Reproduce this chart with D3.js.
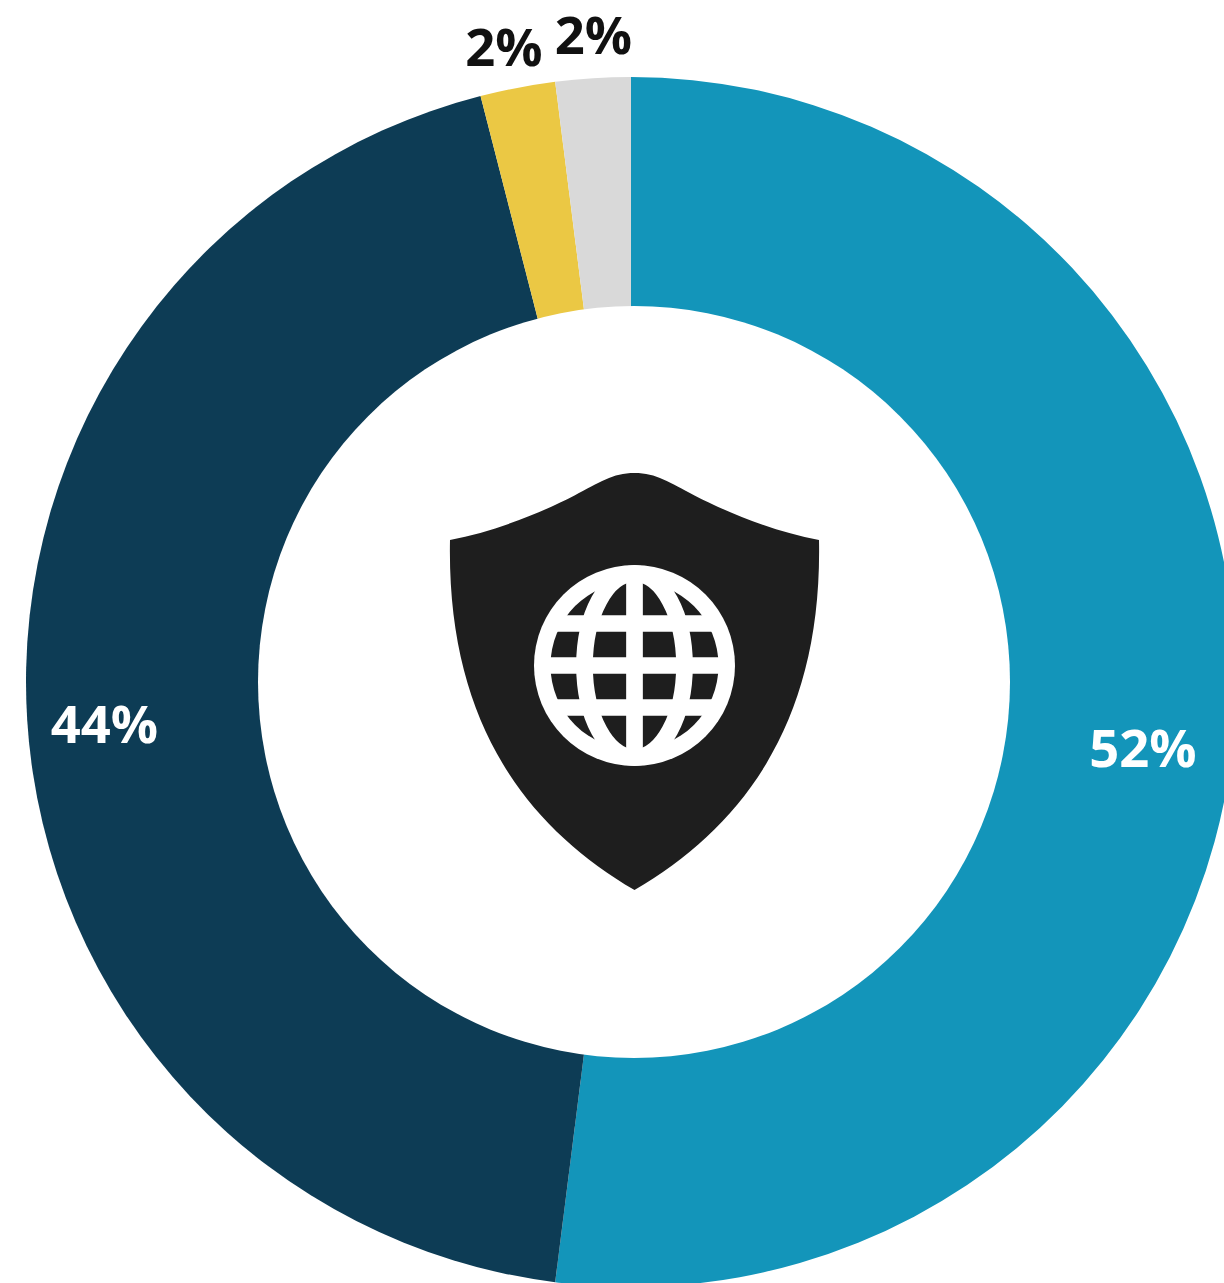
<!DOCTYPE html>
<html>
<head>
<meta charset="utf-8">
<script src="https://cdn.jsdelivr.net/npm/d3@7"></script>
<style>
  html, body { margin: 0; padding: 0; background: #fff; overflow: hidden; }
  svg { display: block; }
</style>
</head>
<body>
<div id="chart"></div>
<script>
// values run clockwise from 12 o'clock
const shares = [52, 44, 2, 2];
const labels = ["52%", "44%", "2%", "2%"];
const colors = ["#1395ba", "#0d3c55", "#ebc844", "#d9d9d9"];
const labelColors = ["#fff", "#fff", "#111", "#111"];

const width = 1224, height = 1283;
const cx = 631, cy = 682, outerR = 605;
// the hole sits 3px right of the ring centre in the original
const holeX = 634, holeY = 682, holeR = 376;
// labels are hand placed, not on the slice centroids
const labelPos = [[1143, 767], [104.5, 743], [504, 66], [593.5, 54]];

const svg = d3.select("#chart").append("svg")
  .attr("width", width)
  .attr("height", height)
  .attr("font-family", "'Open Sans', 'Noto Sans', sans-serif");

const pie = d3.pie().sort(null).value((d) => d);
const arc = d3.arc().innerRadius(0).outerRadius(outerR);

const g = svg.append("g").attr("transform", `translate(${cx},${cy})`);

g.selectAll("path.slice")
  .data(pie(shares))
  .join("path")
  .attr("class", "slice")
  .attr("fill", (d, i) => colors[i])
  .attr("d", arc);

svg.append("circle")
  .attr("cx", holeX)
  .attr("cy", holeY)
  .attr("r", holeR)
  .attr("fill", "#fff");

svg.selectAll("text.pct")
  .data(labels)
  .join("text")
  .attr("class", "pct")
  .attr("x", (d, i) => labelPos[i][0])
  .attr("y", (d, i) => labelPos[i][1])
  .attr("text-anchor", "middle")
  .attr("font-size", 52.5)
  .attr("font-weight", 700)
  .attr("fill", (d, i) => labelColors[i])
  .text((d) => d);

// shield icon
const icon = svg.append("g").attr("transform", "translate(634.5,665.5)");
icon.append("path")
  .attr("fill", "#1e1e1e")
  .attr("d", "M-184.5,-125.5 C-140,-134 -95,-152 -60,-170 C-35,-183 -22,-192.5 0,-192.5 C22,-192.5 35,-183 60,-170 C95,-152 140,-134 184.5,-125.5 C188,55 110,160 0,224.5 C-110,160 -188,55 -184.5,-125.5 Z");

// globe
icon.append("circle").attr("r", 100.5).attr("fill", "#fff");
icon.append("circle").attr("r", 84).attr("fill", "#1e1e1e");
const grid = icon.append("g").attr("fill", "none").attr("stroke", "#fff").attr("stroke-width", 16.7);
grid.append("line").attr("y1", -90).attr("y2", 90);
grid.append("line").attr("x1", -90).attr("x2", 90);
grid.append("line").attr("x1", -78).attr("x2", 78).attr("y1", -42).attr("y2", -42);
grid.append("line").attr("x1", -78).attr("x2", 78).attr("y1", 42).attr("y2", 42);
grid.append("ellipse").attr("rx", 50).attr("ry", 92);
</script>
</body>
</html>
